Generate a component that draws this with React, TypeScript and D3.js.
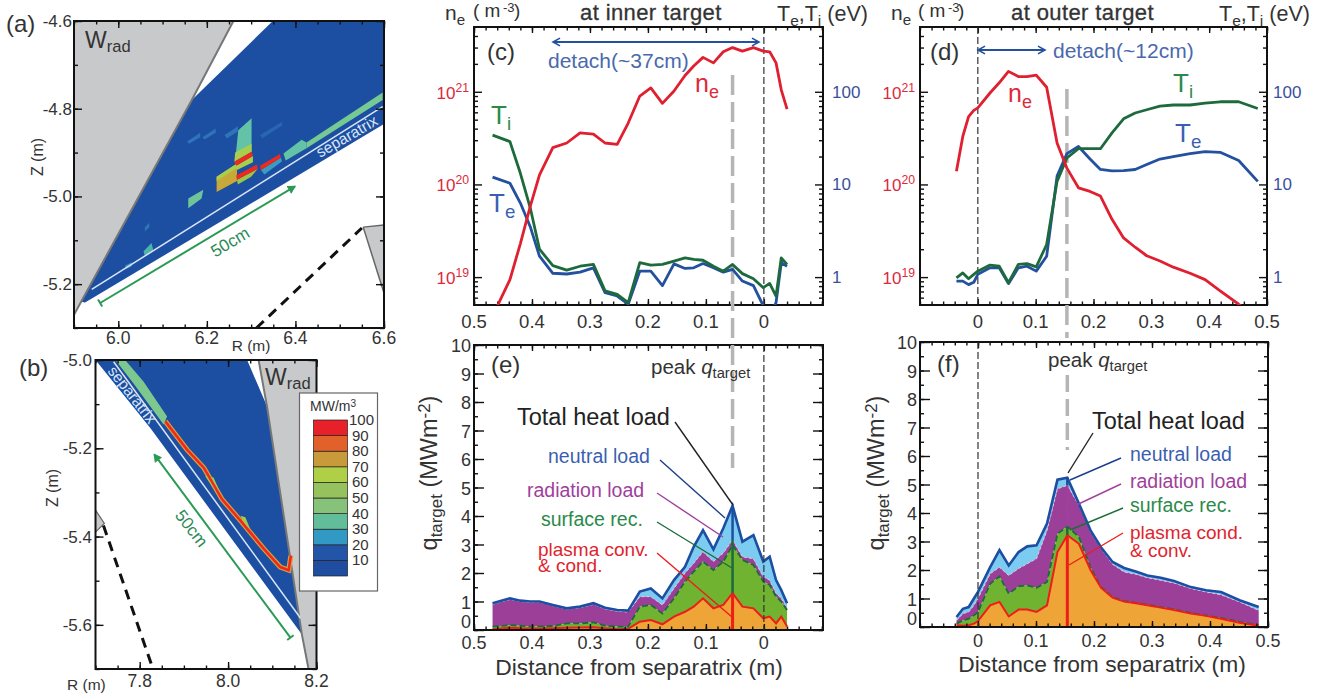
import React, { useEffect, useRef } from "react";
import * as d3 from "d3";

const FONT = "'Liberation Sans', Arial, sans-serif";
const RED = "#dc2a3c";
const BLUE = "#23509f";
const GREEN = "#1d6b3c";
const DARK = "#333333";

// ---- plasma target profiles, inner side (c, e)
const innerDist = [0.468, 0.438, 0.42, 0.403, 0.387, 0.364, 0.34, 0.317, 0.294, 0.274, 0.253, 0.234, 0.214, 0.195, 0.175, 0.155, 0.136, 0.121, 0.105, 0.087, 0.07, 0.054, 0.037, 0.018, 0.001, -0.01, -0.021, -0.03, -0.04];
const innerNe = [3.8e18, 9.4e18, 2.3e19, 5.8e19, 1.27e20, 2.5e20, 2.8e20, 3.6e20, 3.5e20, 2.8e20, 2.7e20, 4.6e20, 9e20, 1.1e21, 7.5e20, 1.02e21, 1.5e21, 1.9e21, 2.35e21, 2.05e21, 2.7e21, 3e21, 2.75e21, 3e21, 2.75e21, 2.7e21, 2.05e21, 1.05e21, 6.5e20];
const innerTi = [34, 29, 13.2, 5.6, 2.0, 1.33, 1.19, 1.31, 1.37, 0.71, 0.65, 0.53, 1.43, 1.35, 1.37, 1.49, 1.61, 1.55, 1.52, 1.31, 1.16, 1.37, 1.09, 0.96, 0.77, 0.855, 0.625, 1.61, 1.37];
const innerTe = [12, 10.3, 6.3, 3.5, 1.68, 1.1, 1.08, 1.13, 1.26, 0.68, 0.625, 0.51, 1.16, 1.16, 0.81, 1.39, 1.24, 1.26, 1.4, 1.26, 1.13, 1.21, 0.906, 0.81, 0.49, 0.38, 0.53, 1.43, 1.31];
const innerPlasma = [0.03, 0.08, 0.06, 0.05, 0.05, 0.06, 0.08, 0.09, 0.1, 0.06, 0.03, 0.04, 0.29, 0.35, 0.2, 0.47, 0.64, 0.82, 1.11, 0.76, 0.88, 1.29, 0.82, 0.76, 0.41, 0.47, 0.23, 0.47, 0.12];
const innerSurface = [0.12, 0.17, 0.15, 0.12, 0.13, 0.14, 0.23, 0.23, 0.27, 0.15, 0.12, 0.12, 0.82, 0.88, 0.58, 1.11, 1.7, 2.05, 2.4, 2.1, 2.4, 2.98, 2.46, 2.28, 1.7, 1.58, 1.17, 1.0, 0.7];
const innerRadiation = [0.9, 1.07, 1.0, 0.96, 0.97, 0.85, 0.73, 0.78, 0.9, 0.74, 0.66, 0.63, 1.17, 1.17, 0.88, 1.46, 2.0, 2.34, 2.75, 2.4, 2.7, 3.16, 2.57, 2.5, 1.87, 1.75, 1.29, 1.11, 0.76];
const innerTotal = [0.94, 1.11, 1.03, 1.0, 1.0, 0.88, 0.76, 0.82, 0.94, 0.78, 0.7, 0.68, 1.35, 1.46, 1.11, 1.75, 2.22, 2.92, 3.5, 2.83, 3.57, 4.36, 3.1, 3.33, 2.4, 2.57, 1.75, 1.4, 0.94];

// ---- outer side (d, f)
const outerDist = [-0.037, -0.026, -0.016, -0.007, 0, 0.021, 0.037, 0.053, 0.07, 0.085, 0.101, 0.119, 0.137, 0.154, 0.174, 0.194, 0.212, 0.232, 0.252, 0.272, 0.292, 0.315, 0.338, 0.367, 0.393, 0.419, 0.451, 0.484];
const outerNe = [1.39e20, 3.3e20, 5.4e20, 6.3e20, 6.7e20, 9.7e20, 1.25e21, 1.66e21, 1.46e21, 1.46e21, 1.51e21, 1.12e21, 2.8e20, 1.5e20, 9.2e19, 8.4e19, 7.5e19, 4.2e19, 2.65e19, 2.1e19, 1.7e19, 1.49e19, 1.28e19, 1.1e19, 9.4e18, 7.1e18, 5.1e18, 3.4e18];
const outerTi = [0.98, 1.11, 0.96, 1.07, 1.16, 1.35, 1.31, 0.87, 1.37, 1.4, 1.29, 2.25, 10.8, 19.3, 24.3, 24.3, 24.3, 36, 51, 59, 64, 70, 72, 72, 75.5, 78, 78, 66];
const outerTe = [0.905, 0.905, 0.83, 0.88, 1.07, 1.26, 1.26, 0.85, 1.26, 1.31, 1.16, 1.68, 12.3, 21.5, 25.7, 18.8, 14.5, 14, 14.1, 14.5, 16.4, 18.8, 20, 21.5, 22.6, 22.2, 18.1, 10.8];
const outerPlasma = [0.06, 0.04, 0.06, 0.12, 0.21, 0.76, 0.88, 0.37, 0.61, 0.61, 0.53, 0.76, 2.63, 3.22, 2.92, 2.0, 1.38, 1.03, 0.89, 0.83, 0.76, 0.68, 0.6, 0.47, 0.39, 0.29, 0.15, 0.04];
const outerSurface = [0.12, 0.23, 0.29, 0.41, 0.53, 1.52, 1.78, 1.17, 1.43, 1.46, 1.38, 1.58, 3.27, 3.53, 3.16, 2.1, 1.4, 1.05, 0.91, 0.85, 0.78, 0.7, 0.62, 0.49, 0.41, 0.32, 0.18, 0.06];
const outerRadiation = [0.23, 0.47, 0.53, 0.76, 1.0, 1.87, 2.1, 1.81, 2.05, 2.22, 2.4, 3.39, 4.85, 4.97, 4.27, 3.33, 2.75, 2.2, 1.93, 1.85, 1.73, 1.64, 1.54, 1.35, 1.23, 1.13, 0.88, 0.58];
const outerTotal = [0.35, 0.64, 0.7, 1.0, 1.23, 2.1, 2.7, 2.16, 2.63, 2.83, 2.87, 3.63, 5.17, 5.24, 4.33, 3.39, 2.8, 2.28, 2.07, 1.95, 1.81, 1.73, 1.61, 1.4, 1.29, 1.23, 0.94, 0.7];

// ---- Wrad maps, points are [R, Z] in metres
type Pt = [number, number];
const wallA: Pt[] = [[5.9, -4.6], [6.26, -4.6], [6.166, -4.78], [5.9, -5.27]];
const plasmaA: Pt[] = [[6.166, -4.78], [6.349, -4.6], [6.6, -4.6], [6.6, -4.835], [5.925, -5.242], [5.915, -5.24]];
const separatrixA: Pt[] = [[5.94, -5.212], [6.597, -4.795]];
const divertorA: Pt[] = [[6.553, -5.07], [6.6, -5.065], [6.6, -5.22]];
const dashedA: Pt[] = [[6.312, -5.3], [6.55, -5.072]];
const arrowA: Pt[] = [[5.959, -5.243], [6.399, -4.977]];
const cellsA: [string, Pt[]][] = [
  ["#2d74b8", [[6.155, -4.875], [6.185, -4.855], [6.185, -4.865], [6.16, -4.88]]],
  ["#2d74b8", [[6.19, -4.865], [6.22, -4.845], [6.22, -4.855], [6.195, -4.87]]],
  ["#2d74b8", [[6.24, -4.86], [6.27, -4.84], [6.27, -4.852], [6.245, -4.868]]],
  ["#2866b0", [[6.32, -4.86], [6.37, -4.83], [6.37, -4.838], [6.325, -4.868]]],
  ["#62c3a7", [[6.271, -4.849], [6.301, -4.822], [6.301, -4.898], [6.264, -4.917]]],
  ["#a8cf4b", [[6.264, -4.9], [6.301, -4.88], [6.301, -4.898], [6.262, -4.921]]],
  ["#a8cf4b", [[6.266, -4.93], [6.304, -4.908], [6.304, -4.922], [6.268, -4.94]]],
  ["#c9a83a", [[6.222, -4.955], [6.268, -4.925], [6.268, -4.965], [6.222, -4.99]]],
  ["#a8cf4b", [[6.222, -4.955], [6.268, -4.925], [6.268, -4.935], [6.222, -4.965]]],
  ["#9ec54a", [[6.268, -4.962], [6.315, -4.937], [6.3, -4.955], [6.27, -4.973]]],
  ["#3a9cc0", [[6.322, -4.94], [6.367, -4.912], [6.37, -4.92], [6.33, -4.95]]],
  ["#62c3a7", [[6.373, -4.902], [6.414, -4.871], [6.425, -4.877], [6.425, -4.89], [6.378, -4.918]]],
  ["#76c994", [[6.425, -4.877], [6.597, -4.763], [6.597, -4.78], [6.425, -4.89]]],
  ["#6fc49a", [[6.158, -5.005], [6.192, -4.985], [6.188, -5.005], [6.158, -5.027]]],
  ["#4fb3ad", [[6.057, -5.125], [6.075, -5.106], [6.079, -5.122], [6.06, -5.135]]],
  ["#2f75b8", [[6.06, -5.07], [6.07, -5.06], [6.07, -5.07], [6.06, -5.08]]],
  ["#3a8fc0", [[6.015, -5.158], [6.03, -5.15], [6.03, -5.16], [6.018, -5.165]]],
  ["#ee2a1e", [[6.262, -4.921], [6.301, -4.898], [6.304, -4.908], [6.266, -4.93]]],
  ["#ee2a1e", [[6.266, -4.952], [6.313, -4.927], [6.315, -4.937], [6.268, -4.962]]],
  ["#ee2a1e", [[6.32, -4.93], [6.365, -4.903], [6.367, -4.912], [6.322, -4.94]]],
];

const wallB: Pt[] = [[8.069, -5.0], [8.2, -5.0], [8.2, -5.7], [8.182, -5.7], [8.167, -5.622], [8.088, -5.105]];
const plasmaB: Pt[] = [[7.7, -5.0], [8.043, -5.0], [8.088, -5.105], [8.167, -5.622], [7.824, -5.154]];
const separatrixB: Pt[] = [[7.741, -5.004], [8.164, -5.585]];
const bandB: Pt[] = [[7.745, -5.0], [7.767, -5.0], [7.809, -5.049], [7.862, -5.128], [7.854, -5.146], [7.786, -5.053]];
const stripB: Pt[] = [[7.858, -5.139], [7.907, -5.203], [7.945, -5.244], [7.986, -5.315], [8.028, -5.364], [8.081, -5.428], [8.118, -5.469], [8.137, -5.476], [8.142, -5.443]];
const cellsB: [string, Pt[]][] = [
  ["#a5c94e", [[7.948, -5.263], [7.967, -5.266], [7.982, -5.3], [7.971, -5.296]]],
  ["#a5c94e", [[8.028, -5.353], [8.039, -5.356], [8.05, -5.383], [8.039, -5.375]]],
];
const dashedB: Pt[] = [[7.718, -5.375], [7.828, -5.694]];
const divertorB: Pt[] = [[7.7, -5.34], [7.72, -5.37], [7.7, -5.39]];
const arrowB: Pt[] = [[8.141, -5.629], [7.833, -5.214]];

// ---- colour key
const keyLevels = [0, 10, 20, 30, 40, 50, 60, 70, 80, 90, 100];
const keyColors = ["#1f4ea0", "#2255a8", "#3298c4", "#62bd9a", "#86c27a", "#95c25c", "#aecf46", "#c99a3a", "#e2602a", "#e8202a"];
const keyLabels = [10, 20, 30, 40, 50, 60, 70, 80, 90, 100];

type Sel = d3.Selection<any, any, any, any>;

function label(g: Sel, x: number, y: number, text: string, opts: any = {}) {
  const t = g.append("text")
    .attr("x", x).attr("y", y)
    .attr("font-family", FONT)
    .attr("font-size", opts.size ?? 16)
    .attr("fill", opts.fill ?? DARK)
    .attr("text-anchor", opts.anchor ?? "start")
    .attr("font-weight", opts.weight ?? "normal");
  if (opts.rotate != null) t.attr("transform", `rotate(${opts.rotate},${x},${y})`);
  t.text(text);
  return t;
}

// base + lowered or raised small part, e.g. n_e, 10^21
function script(g: Sel, x: number, y: number, parts: [string, number?, string?][], opts: any = {}) {
  const t = label(g, x, y, "", opts);
  const size = opts.size ?? 16;
  let prev = 0;
  parts.forEach(([s, shift = 0, style]) => {
    const span = t.append("tspan").text(s).attr("dy", shift - prev);
    if (shift !== 0) span.attr("font-size", size * 0.72);
    if (style) span.attr("font-style", style);
    prev = shift;
  });
  return t;
}

// two line note kept in one text element, the reference sets these lines tight
function twoLines(g: Sel, x: number, y: number, first: string, second: string, gap: number, opts: any = {}) {
  const t = label(g, x, y, "", opts);
  t.append("tspan").text(first);
  t.append("tspan").text(second).attr("x", x).attr("dy", gap);
  return t;
}

function ticks(g: Sel, axis: any, tx: number, ty: number, stroke = "#111", width = 1.4) {
  const a = g.append("g").attr("transform", `translate(${tx},${ty})`).call(axis);
  a.select(".domain").remove();
  a.selectAll("line").attr("stroke", stroke).attr("stroke-width", width);
  a.selectAll("text").remove();
}

function frame(g: Sel, x: any, y: any, xMajor: number[], xMinor: number[], yMajor: number[], yMinor: number[], bigX = 6, bigY = 8) {
  const [x0, x1] = x.range();
  const [y0, y1] = y.range();
  ticks(g, d3.axisBottom(x).tickValues(xMinor).tickSize(-3.5), 0, y0);
  ticks(g, d3.axisBottom(x).tickValues(xMajor).tickSize(-bigX), 0, y0);
  ticks(g, d3.axisTop(x).tickValues(xMinor).tickSize(-3.5), 0, y1);
  ticks(g, d3.axisTop(x).tickValues(xMajor).tickSize(-bigX), 0, y1);
  ticks(g, d3.axisLeft(y).tickValues(yMinor).tickSize(-4), x0, 0);
  ticks(g, d3.axisLeft(y).tickValues(yMajor).tickSize(-bigY), x0, 0);
  ticks(g, d3.axisRight(y).tickValues(yMinor).tickSize(-4), x1, 0);
  ticks(g, d3.axisRight(y).tickValues(yMajor).tickSize(-bigY), x1, 0);
  g.append("rect")
    .attr("x", x0).attr("y", y1)
    .attr("width", x1 - x0).attr("height", y0 - y1)
    .attr("fill", "none").attr("stroke", "#111").attr("stroke-width", 2);
}

function arrowLine(g: Sel, p0: number[], p1: number[], color: string, both = false, barStart = false) {
  const ang = Math.atan2(p1[1] - p0[1], p1[0] - p0[0]);
  const head = (p: number[], a: number) => {
    g.append("path")
      .attr("d", d3.line()([
        [p[0] - 8 * Math.cos(a - 0.5), p[1] - 8 * Math.sin(a - 0.5)],
        [p[0], p[1]],
        [p[0] - 8 * Math.cos(a + 0.5), p[1] - 8 * Math.sin(a + 0.5)],
      ] as any) as string)
      .attr("fill", both ? "none" : color)
      .attr("stroke", color).attr("stroke-width", both ? 1.6 : 1.2);
  };
  g.append("line")
    .attr("x1", p0[0]).attr("y1", p0[1]).attr("x2", p1[0]).attr("y2", p1[1])
    .attr("stroke", color).attr("stroke-width", 2);
  head(p1, ang);
  if (both) head(p0, ang + Math.PI);
  if (barStart) {
    const n = [Math.sin(ang) * 4, -Math.cos(ang) * 4];
    g.append("line")
      .attr("x1", p0[0] - n[0]).attr("y1", p0[1] - n[1]).attr("x2", p0[0] + n[0]).attr("y2", p0[1] + n[1])
      .attr("stroke", color).attr("stroke-width", 2);
  }
}

function drawMaps(svg: Sel) {
  const poly = (g: Sel, x: any, y: any, pts: Pt[], fill: string) =>
    g.append("polygon")
      .attr("points", pts.map((p) => `${x(p[0])},${y(p[1])}`).join(" "))
      .attr("fill", fill);
  const seg = (g: Sel, x: any, y: any, pts: Pt[], stroke: string, w: number, dash?: string) =>
    g.append("path")
      .attr("d", d3.line<Pt>().x((p) => x(p[0])).y((p) => y(p[1]))(pts) as string)
      .attr("fill", "none").attr("stroke", stroke).attr("stroke-width", w)
      .attr("stroke-dasharray", dash ?? null);

  // (a)
  const xa = d3.scaleLinear().domain([5.9, 6.6]).range([74, 384]);
  const ya = d3.scaleLinear().domain([-5.3, -4.6]).range([328, 21]);
  const a = svg.append("g");
  poly(a, xa, ya, wallA, "#c8c9ca");
  poly(a, xa, ya, plasmaA, "#1c4ea2");
  cellsA.forEach(([c, pts]) => poly(a, xa, ya, pts, c));
  seg(a, xa, ya, [wallA[1], wallA[2], wallA[3]], "#777", 2);
  seg(a, xa, ya, separatrixA, "#d9e6f5", 1.5);
  poly(a, xa, ya, divertorA, "#c8c9ca");
  seg(a, xa, ya, [divertorA[0], divertorA[2]], "#666", 1.5);
  seg(a, xa, ya, [divertorA[0], divertorA[1]], "#666", 1.5);
  seg(a, xa, ya, dashedA, "#111", 3, "10 7");
  arrowLine(a, [xa(arrowA[0][0]), ya(arrowA[0][1])], [xa(arrowA[1][0]), ya(arrowA[1][1])], "#2a9a55", false, true);
  frame(a, xa, ya, [6.0, 6.2, 6.4, 6.6], d3.range(5.9, 6.601, 0.05), [-5.2, -5.0, -4.8, -4.6], d3.range(-5.3, -4.599, 0.1), 7, 8);
  label(a, 233, 247, "50cm", { size: 17, fill: "#2a8a55", anchor: "middle", rotate: -31 });
  label(a, 349.5, 141, "separatrix", { size: 15.5, fill: "#d9e6f5", anchor: "middle", rotate: -30 });
  label(a, 6, 32, "(a)", { size: 24 });
  script(a, 85, 48, [["W"], ["rad", 4]], { size: 23 });
  [[6.0, "6.0"], [6.2, "6.2"], [6.4, "6.4"], [6.6, "6.6"]].forEach(([v, s]: any) =>
    label(a, xa(v), 344, s, { size: 17.5, anchor: "middle" }));
  label(a, 251, 351, "R (m)", { size: 15.5, anchor: "middle" });
  [[-4.6, "-4.6"], [-4.8, "-4.8"], [-5.0, "-5.0"], [-5.2, "-5.2"]].forEach(([v, s]: any) =>
    label(a, 72, ya(v) + 6, s, { size: 17, anchor: "end" }));
  label(a, 43, 157, "Z (m)", { size: 16, anchor: "middle", rotate: -90 });

  // (b)
  const xb = d3.scaleLinear().domain([7.7, 8.2]).range([95.5, 316.5]);
  const yb = d3.scaleLinear().domain([-5.7, -5.0]).range([669, 360]);
  const b = svg.append("g");
  poly(b, xb, yb, wallB, "#c8c9ca");
  poly(b, xb, yb, plasmaB, "#1c4ea2");
  seg(b, xb, yb, [wallB[0], wallB[5], wallB[4], wallB[3]], "#777", 2);
  poly(b, xb, yb, bandB, "#7cc88f");
  seg(b, xb, yb, stripB, "#d9a03c", 5);
  cellsB.forEach(([c, pts]) => poly(b, xb, yb, pts, c));
  seg(b, xb, yb, stripB, "#ee2a1e", 2.6);
  seg(b, xb, yb, separatrixB, "#d9e6f5", 1.5);
  poly(b, xb, yb, divertorB, "#c8c9ca");
  seg(b, xb, yb, [divertorB[0], divertorB[1], divertorB[2]], "#666", 1.2);
  seg(b, xb, yb, dashedB, "#111", 3, "10 7");
  arrowLine(b, [xb(arrowB[0][0]), yb(arrowB[0][1])], [xb(arrowB[1][0]), yb(arrowB[1][1])], "#2a9a55", false, true);
  frame(b, xb, yb, [7.8, 8.0, 8.2], d3.range(7.7, 8.201, 0.05), [-5.6, -5.4, -5.2, -5.0], d3.range(-5.7, -4.999, 0.1), 7, 8);
  label(b, 187, 532, "50cm", { size: 17, fill: "#2a8a55", anchor: "middle", rotate: 52 });
  label(b, 128, 398, "separatrix", { size: 15.5, fill: "#d9e6f5", anchor: "middle", rotate: 52 });
  label(b, 19, 376, "(b)", { size: 24 });
  script(b, 265, 385, [["W"], ["rad", 4]], { size: 23 });
  [[7.8, "7.8"], [8.0, "8.0"], [8.2, "8.2"]].forEach(([v, s]: any) =>
    label(b, xb(v), 687, s, { size: 17.5, anchor: "middle" }));
  label(b, 67, 690, "R (m)", { size: 15.5 });
  [[-5.0, "-5.0"], [-5.2, "-5.2"], [-5.4, "-5.4"], [-5.6, "-5.6"]].forEach(([v, s]: any) =>
    label(b, 92, yb(v) + 6, s, { size: 17, anchor: "end" }));
  label(b, 58, 488, "Z (m)", { size: 16, anchor: "middle", rotate: -90 });

  // colour key
  const key = svg.append("g");
  key.append("rect")
    .attr("x", 299.5).attr("y", 393).attr("width", 78).attr("height", 198)
    .attr("fill", "#fff").attr("stroke", "#666").attr("stroke-width", 1.2);
  const ky = d3.scaleLinear().domain([0, 100]).range([576, 420]);
  keyColors.forEach((c, i) => {
    key.append("rect")
      .attr("x", 313.5).attr("y", ky(keyLevels[i + 1]))
      .attr("width", 34).attr("height", ky(keyLevels[i]) - ky(keyLevels[i + 1]))
      .attr("fill", c).attr("stroke", "#222").attr("stroke-width", 0.7);
  });
  keyLabels.forEach((v) => label(key, v === 100 ? 349 : 352, ky(v) + 5, String(v), { size: 15 }));
  script(key, 310, 411, [["MW/m"], ["3", -4]], { size: 14 });
}

function profilePanel(svg: Sel, o: any) {
  const x = d3.scaleLinear().domain(o.xDomain).range([o.x0, o.x1]);
  const y = d3.scaleLog().domain([5e18, 5e21]).range([305, 27]);
  const t = d3.scaleLog().domain([0.5, 500]).range([305, 27]);
  const g = svg.append("g");
  const clipId = `clip-${o.id}`;
  g.append("clipPath").attr("id", clipId).append("rect")
    .attr("x", o.x0).attr("y", 27).attr("width", o.x1 - o.x0).attr("height", 278);

  const xMinor = d3.range(-5, 26).map((d) => d * 0.02);
  const yMajor = [1e19, 1e20, 1e21];
  const yMinor: number[] = [];
  [1e18, 1e19, 1e20, 1e21].forEach((d) => d3.range(2, 10).forEach((m) => {
    const v = d * m;
    if (v > 5e18 && v < 5e21) yMinor.push(v);
  }));
  frame(g, x, y, [0, 0.1, 0.2, 0.3, 0.4, 0.5].filter((v) => v >= Math.min(...o.xDomain)), xMinor.filter((v) => v >= Math.min(...o.xDomain) && v <= Math.max(...o.xDomain)), yMajor, yMinor, 6, 8);

  g.append("line").attr("x1", x(0)).attr("x2", x(0)).attr("y1", 27).attr("y2", 305)
    .attr("stroke", "#333").attr("stroke-width", 1.2).attr("stroke-dasharray", "7 3");

  // dashed peak marker, continues below the frame
  g.append("line").attr("x1", x(o.peak)).attr("x2", x(o.peak)).attr("y1", o.peakTop).attr("y2", 338)
    .attr("stroke", "#b5b5b5").attr("stroke-width", 3.5).attr("stroke-dasharray", "20 7");

  const lineFor = (ys: number[], scale: any) =>
    d3.line<number>().x((_, i) => x(o.dist[i])).y((d) => scale(d))(ys) as string;
  const plot = (d: string, c: string) =>
    g.append("path").attr("d", d).attr("fill", "none").attr("stroke", c)
      .attr("stroke-width", 2.8).attr("stroke-linejoin", "round").attr("clip-path", `url(#${clipId})`);
  plot(lineFor(o.te, t), BLUE);
  plot(lineFor(o.ti, t), GREEN);
  plot(lineFor(o.ne, y), "#e01f30");

  [[1e21, "21"], [1e20, "20"], [1e19, "19"]].forEach(([v, s]: any) =>
    script(g, o.x0 - 5, y(v) + 7, [["10"], [s, -7]], { size: 17, anchor: "end", fill: RED }));
  [[100, "100"], [10, "10"], [1, "1"]].forEach(([v, s]: any) =>
    label(g, o.x1 + o.rightGap, t(v) + 6, s, { size: 17, fill: "#3b4f9c" }));
  o.xLabels.forEach((v: number) => label(g, x(v), 328, String(v), { size: 18.5, anchor: "middle" }));
  return g;
}

function heatPanel(svg: Sel, o: any) {
  const x = d3.scaleLinear().domain(o.xDomain).range([o.x0, o.x1]);
  const y = d3.scaleLinear().domain([0, 10]).range([o.y0, o.y1]);
  const g = svg.append("g");
  const bands: [number[], number[], string][] = [
    [o.total, o.radiation, "#7ccbf0"],
    [o.radiation, o.surface, "#9c3f99"],
    [o.surface, o.plasma, "#6fb331"],
    [o.plasma, o.plasma.map(() => 0), "#eea436"],
  ];
  bands.forEach(([top, bottom, c]) => {
    const area = d3.area<number>()
      .x((_, i) => x(o.dist[i]))
      .y1((d) => y(d))
      .y0((_, i) => y(bottom[i]));
    g.append("path").attr("d", area(top) as string).attr("fill", c);
  });
  const lineFor = (ys: number[]) =>
    d3.line<number>().x((_, i) => x(o.dist[i])).y((d) => y(d))(ys) as string;
  const plot = (ys: number[], c: string, w: number, dash?: string) =>
    g.append("path").attr("d", lineFor(ys)).attr("fill", "none").attr("stroke", c)
      .attr("stroke-width", w).attr("stroke-dasharray", dash ?? null);
  plot(o.radiation, "#d9c8ea", 1, "3 2");
  plot(o.surface, "#1d6b3c", 1.8, "6 3");
  plot(o.plasma, "#ef1c1c", 2);
  plot(o.total, "#1c4ea2", 2.6);

  // spike at the heat load peak
  const i = o.dist.indexOf(o.peak);
  const vbar = (from: number, to: number, c: string, w: number) =>
    g.append("line").attr("x1", x(o.peak)).attr("x2", x(o.peak)).attr("y1", y(from)).attr("y2", y(to))
      .attr("stroke", c).attr("stroke-width", w);
  vbar(o.radiation[i], o.total[i], "#1c4ea2", 2.5);
  vbar(o.surface[i], o.radiation[i], o.peakMid, 2.5);
  vbar(o.plasma[i], o.surface[i], "#1d6b3c", 2.5);
  vbar(0, o.plasma[i], "#ef1c1c", 3);

  const xMinor = d3.range(-5, 26).map((d) => d * 0.02)
    .filter((v) => v >= Math.min(...o.xDomain) && v <= Math.max(...o.xDomain));
  frame(g, x, y, [0, 0.1, 0.2, 0.3, 0.4, 0.5].filter((v) => v >= Math.min(...o.xDomain)), xMinor,
    d3.range(0, 11), d3.range(0, 10.01, 0.5), 6, 10);

  g.append("line").attr("x1", x(0)).attr("x2", x(0)).attr("y1", o.y1).attr("y2", o.y0)
    .attr("stroke", "#333").attr("stroke-width", 1.2).attr("stroke-dasharray", "7 3");

  d3.range(0, 11).forEach((v) =>
    label(g, o.x0 - 3, y(v) + (v === 0 ? -2 : 7), String(v), { size: 18, anchor: "end" }));
  o.xLabels.forEach((v: number) => label(g, x(v), o.y0 + o.tickGap, String(v), { size: 18, anchor: "middle" }));
  label(g, o.titleX, o.y0 + 45, "Distance from separatrix (m)", { size: 22.8, anchor: "middle" });
  return { g, x, y };
}

function callout(g: Sel, pts: number[][], c: string, w = 1.4) {
  g.append("path").attr("d", d3.line()(pts as any) as string)
    .attr("fill", "none").attr("stroke", c).attr("stroke-width", w);
}

export default function App() {
  const ref = useRef<SVGSVGElement>(null);

  useEffect(() => {
    const svg = d3.select(ref.current);
    svg.selectAll("*").remove();
    drawMaps(svg as any);

    const c = profilePanel(svg as any, {
      id: "c", xDomain: [0.5, -0.102], x0: 474, x1: 823, dist: innerDist, ne: innerNe, ti: innerTi, te: innerTe,
      peak: 0.054, peakTop: 75, rightGap: 9, xLabels: [0.5, 0.4, 0.3, 0.2, 0.1, 0],
    });
    script(c, 445, 20, [["n"], ["e", 5]], { size: 21 });
    label(c, 473, 17, "( m", { size: 19 });
    label(c, 503, 12, "-3", { size: 13 });
    label(c, 514, 17, ")", { size: 19 });
    label(c, 580, 20, "at inner target", { size: 22 })
      .attr("letter-spacing", 0.4).attr("stroke", "#333").attr("stroke-width", 0.3);
    script(c, 777, 21, [["T"], ["e", 5], [",T", 0], ["i", 5], [" (eV)", 0]], { size: 21.5 });
    label(c, 487, 60, "(c)", { size: 24 });
    arrowLine(c, [553, 42], [759, 42], BLUE, true);
    label(c, 548, 68, "detach(~37cm)", { size: 21, fill: "#4a69ad" });
    script(c, 695, 92, [["n"], ["e", 6]], { size: 25, fill: RED });
    script(c, 491, 124, [["T"], ["i", 6]], { size: 26, fill: "#2a8a4a" });
    script(c, 489, 212, [["T"], ["e", 6]], { size: 26, fill: "#3b5fb0" });

    const d = profilePanel(svg as any, {
      id: "d", xDomain: [-0.1, 0.5], x0: 920, x1: 1267, dist: outerDist, ne: outerNe, ti: outerTi, te: outerTe,
      peak: 0.154, peakTop: 89, rightGap: 6, xLabels: [0, 0.1, 0.2, 0.3, 0.4, 0.5],
    });
    script(d, 891, 20, [["n"], ["e", 5]], { size: 21 });
    label(d, 918, 17, "( m", { size: 19 });
    label(d, 948, 12, "-3", { size: 13 });
    label(d, 958, 17, ")", { size: 19 });
    label(d, 1011, 20, "at outer target", { size: 22 })
      .attr("letter-spacing", 0.4).attr("stroke", "#333").attr("stroke-width", 0.3);
    script(d, 1219, 21, [["T"], ["e", 5], [",T", 0], ["i", 5], [" (eV)", 0]], { size: 21.5 });
    label(d, 930, 60, "(d)", { size: 24 });
    arrowLine(d, [978, 50], [1045, 50], BLUE, true);
    label(d, 1053, 58, "detach(~12cm)", { size: 21, fill: "#4a69ad" });
    script(d, 1008, 102, [["n"], ["e", 6]], { size: 25, fill: RED });
    script(d, 1173, 92, [["T"], ["i", 6]], { size: 26, fill: "#2a8a4a" });
    script(d, 1175, 142, [["T"], ["e", 6]], { size: 26, fill: "#3b5fb0" });

    const e = heatPanel(svg as any, {
      xDomain: [0.5, -0.102], x0: 474, x1: 823, y0: 630, y1: 345, dist: innerDist,
      plasma: innerPlasma, surface: innerSurface, radiation: innerRadiation, total: innerTotal,
      peak: 0.054, peakMid: "#1d6b3c", tickGap: 19, titleX: 639, xLabels: [0.5, 0.4, 0.3, 0.2, 0.1, 0],
    });
    e.g.append("line").attr("x1", e.x(0.054)).attr("x2", e.x(0.054)).attr("y1", 345).attr("y2", 468)
      .attr("stroke", "#b5b5b5").attr("stroke-width", 3.5).attr("stroke-dasharray", "20 7");
    label(e.g, 491, 373, "(e)", { size: 24 });
    script(e.g, 651, 374, [["peak "], ["q", 0, "italic"], ["target", 4]], { size: 20.5 });
    label(e.g, 517, 425, "Total heat load", { size: 23.5, fill: "#222" });
    label(e.g, 548, 463, "neutral load", { size: 19.5, fill: "#3b5fb0" });
    label(e.g, 527, 497, "radiation load", { size: 19.5, fill: "#a0409c" });
    label(e.g, 541, 526, "surface rec.", { size: 19.5, fill: "#2a8a4a" });
    twoLines(e.g, 538, 556, "plasma conv.", "& cond.", 16, { size: 19, fill: "#e0242e" });
    callout(e.g, [[675, 422], [733, 505]], "#222");
    callout(e.g, [[660, 460], [725, 518]], "#1c3f8a");
    callout(e.g, [[657, 493], [723, 537]], "#a0409c");
    callout(e.g, [[657, 522], [732, 568]], "#1d6b3c");
    callout(e.g, [[657, 553], [732, 617]], "#ef1c1c");
    script(e.g, 437, 473, [["q"], ["target", 5], [" (MWm", 0], ["-2", -7], [")", 0]], { size: 23.5, anchor: "middle", rotate: -90 });

    const f = heatPanel(svg as any, {
      xDomain: [-0.1, 0.5], x0: 920, x1: 1268, y0: 627, y1: 342, dist: outerDist,
      plasma: outerPlasma, surface: outerSurface, radiation: outerRadiation, total: outerTotal,
      peak: 0.154, peakMid: "#a0409c", tickGap: 20, titleX: 1102, xLabels: [0, 0.1, 0.2, 0.3, 0.4, 0.5],
    });
    f.g.append("line").attr("x1", f.x(0.154)).attr("x2", f.x(0.154)).attr("y1", 375).attr("y2", 450)
      .attr("stroke", "#b5b5b5").attr("stroke-width", 3.5).attr("stroke-dasharray", "17 7");
    label(f.g, 937, 372, "(f)", { size: 24 });
    script(f.g, 1048, 367, [["peak "], ["q", 0, "italic"], ["target", 4]], { size: 20.5 });
    label(f.g, 1092, 429, "Total heat load", { size: 23.5, fill: "#222" });
    label(f.g, 1130, 461, "neutral load", { size: 19.5, fill: "#3b5fb0" });
    label(f.g, 1130, 488, "radiation load", { size: 19.5, fill: "#a0409c" });
    label(f.g, 1130, 512, "surface rec.", { size: 19.5, fill: "#2a8a4a" });
    twoLines(f.g, 1130, 539, "plasma cond.", "& conv.", 18, { size: 19, fill: "#e0242e" });
    callout(f.g, [[1093, 433], [1068, 473]], "#222");
    callout(f.g, [[1121, 458], [1070, 480]], "#1c3f8a");
    callout(f.g, [[1121, 484], [1070, 508]], "#a0409c");
    callout(f.g, [[1123, 508], [1070, 530]], "#1d6b3c");
    callout(f.g, [[1123, 533], [1069, 565]], "#ef1c1c");
    script(f.g, 884, 473, [["q"], ["target", 5], [" (MWm", 0], ["-2", -7], [")", 0]], { size: 23.5, anchor: "middle", rotate: -90 });
  }, []);

  return (
    <svg ref={ref} width={1333} height={697}
      style={{ position: "fixed", left: 0, top: 0, background: "#fff" }} />
  );
}
